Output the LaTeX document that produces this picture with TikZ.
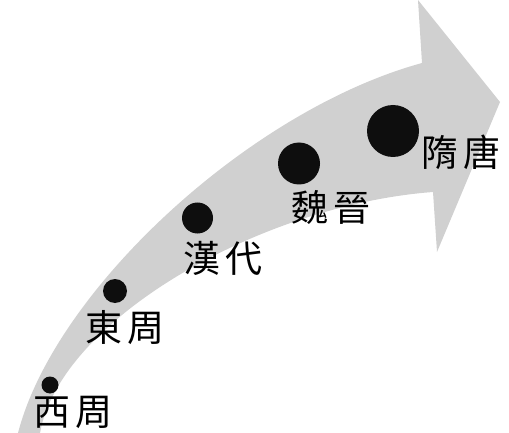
\documentclass[tikz,border=0pt]{standalone}
\usepackage{fontspec}
\newfontfamily\cjk{Noto Sans CJK TC}
\usepackage{tikz}
\usetikzlibrary{positioning}
\definecolor{arrowgray}{RGB}{208,208,208}
\definecolor{dotblack}{RGB}{14,14,14}
\tikzset{era/.style={circle,fill=dotblack,inner sep=0pt,minimum size=#1},
  period/.style={font=\cjk\fontsize{37}{37}\selectfont,inner sep=0pt}}
\newcommand{\twochar}[2]{#1\hspace{5pt}#2}
\begin{document}
\begin{tikzpicture}[x=1pt,y=-1pt,node distance=37pt]
\useasboundingbox (0,0) rectangle (509,433);
% curved arrow
\fill[arrowgray] (18,433) .. controls (55,290) and (250,110) .. (422,63) -- (418,0) -- (500,102)
  -- (437,252) -- (433,192) .. controls (260,205) and (60,320) .. (40,433) -- cycle;
% dots
\node[era=17pt] at (50,385) (p1) {};
\node[era=24pt] at (115,291) (p2) {};
\node[era=31pt] at (197.5,218) (p3) {};
\node[era=42pt] at (299,163.5) (p4) {};
\node[era=52pt] at (393,131) (p5) {};
% labels
\node[period,below of=p1,xshift=23.5pt,yshift=9.5pt] (t1) {\twochar{西}{周}};
\node[period,below of=p2,xshift=10pt] (t2) {\twochar{東}{周}};
\node[period,below of=p3,xshift=25.5pt,yshift=-3pt] (t3) {\twochar{漢}{代}};
\node[period,below of=p4,xshift=32pt,yshift=-6.5pt] (t4) {\twochar{魏}{晉}};
\node[period,right of=p5,xshift=31pt,yshift=-21pt] (t5) {\twochar{隋}{唐}};
\end{tikzpicture}
\end{document}
